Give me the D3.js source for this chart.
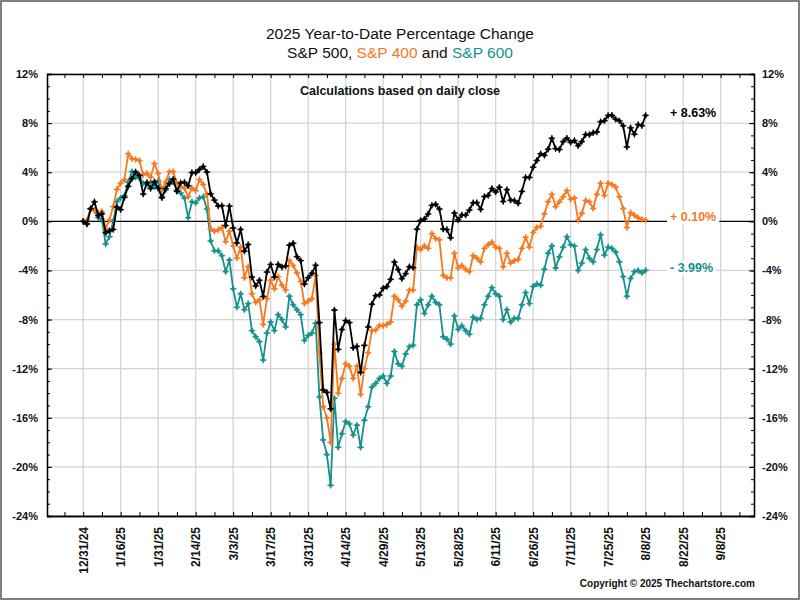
<!DOCTYPE html>
<html>
<head>
<meta charset="utf-8">
<script src="https://cdn.jsdelivr.net/npm/d3@7"></script>
<style>
  body { margin: 0; background: #fff; }
  svg text { font-family: Arial, "Liberation Sans", sans-serif; }
</style>
</head>
<body>
<div id="my_dataviz"></div>
<script>
// x axis is trading days, one label every 10 sessions
const tickLabels = ["12/31/24", "1/16/25", "1/31/25", "2/14/25", "3/3/25", "3/17/25", "3/31/25",
  "4/14/25", "4/29/25", "5/13/25", "5/28/25", "6/11/25", "6/26/25", "7/11/25", "7/25/25",
  "8/8/25", "8/22/25", "9/8/25"];

// YTD % change at each daily close, 12/31/24 .. 8/8/25
const sp500 = [0, -0.22, 1.03, 1.59, 0.47, 0.62, -0.93, -0.77, -0.66, 1.16,
  0.95, 1.96, 2.85, 3.48, 4.03, 3.73, 2.22, 3.16, 2.68, 3.22,
  2.70, 1.92, 2.66, 3.06, 3.43, 2.45, 3.14, 3.18, 2.90, 3.97,
  3.96, 4.22, 4.46, 4.01, 2.24, 1.73, 1.25, 1.27, -0.34, 1.24,
  -0.54, -1.76, -0.66, -2.43, -1.89, -4.54, -5.26, -4.80, -6.12, -4.13,
  -3.51, -4.54, -3.51, -3.72, -3.64, -1.94, -1.79, -2.88, -3.20, -5.11,
  -4.59, -4.23, -3.58, -8.25, -13.73, -13.93, -15.28, -7.22, -10.43, -8.81,
  -8.09, -8.25, -10.30, -10.18, -12.30, -10.10, -8.60, -6.75, -6.06, -6.00,
  -5.45, -5.31, -4.72, -3.31, -3.93, -4.67, -4.26, -3.70, -3.77, -0.64,
  0.08, 0.19, 0.60, 1.30, 1.39, 1.00, -0.63, -0.67, -1.34, 0.68,
  0.12, 0.52, 0.51, 0.92, 1.51, 1.52, 0.98, 2.02, 2.11, 2.67,
  2.39, 2.78, 1.62, 2.58, 1.72, 1.69, 1.47, 2.44, 3.58, 3.58,
  4.41, 4.96, 5.50, 5.38, 5.88, 6.76, 5.92, 5.85, 6.49, 6.78,
  6.43, 6.58, 6.16, 6.50, 7.07, 7.06, 7.21, 7.28, 8.11, 8.19,
  8.62, 8.64, 8.32, 8.18, 7.78, 6.06, 7.62, 7.10, 7.88, 7.79,
  8.63];

const sp400 = [0, 0.1, 1.06, 0.9, 0.7, 0.8, -0.6, 0.1, 1.2, 2.6,
  3.1, 3.4, 5.5, 5.1, 5.05, 4.95, 3.8, 3.9, 3.6, 4.7,
  3.9, 2.6, 3.2, 4.05, 4.05, 3.1, 2.8, 2.7, 2.0, 2.7,
  2.5, 3.4, 3.0, 2.2, -0.6, -0.8, -0.7, -0.5, -1.66, -0.8,
  -2.0, -3.0, -2.1, -4.6, -3.7, -5.9, -6.6, -6.4, -8.4, -6.3,
  -4.8, -5.5, -4.5, -5.2, -5.6, -3.2, -3.6, -4.2, -4.9, -6.7,
  -6.5, -6.3, -4.4, -10.7, -15.1, -16.0, -18.0, -10.0, -14.0, -12.8,
  -11.6, -11.8, -12.8, -11.8, -14.1, -12.0, -10.7, -8.9, -8.85, -8.5,
  -8.5, -8.4, -8.2, -6.1, -6.4, -6.9, -6.5, -5.6, -5.6, -2.1,
  -2.3, -2.0, -2.2, -1.0, -1.4, -1.5, -4.4, -4.6, -4.6, -2.6,
  -3.8, -3.6, -3.9, -4.1, -2.8, -3.0, -3.3, -2.2, -1.9, -1.7,
  -2.1, -2.2, -3.7, -2.6, -3.4, -3.2, -3.1, -2.2, -1.3, -2.1,
  -0.9, -0.5, -0.4, 0.6, 1.6, 2.2, 1.2, 1.6, 2.0, 2.5,
  1.8, 1.9, 0.1, 0.65, 1.7, 1.6, 1.05, 2.2, 3.1, 2.1,
  3.1, 3.0, 2.8, 2.0, 1.05, -0.5, 0.7, 0.5, 0.3, 0.16,
  0.10];

const sp600 = [0, -0.2, 1.0, 0.9, 0.3, 0.15, -1.85, -1.25, 0.0, 1.6,
  1.9, 2.1, 3.2, 4.05, 3.6, 3.5, 3.1, 3.0, 3.2, 2.8,
  3.3, 2.0, 2.55, 3.4, 3.2, 2.55, 2.3, 1.9, 0.3, 1.6,
  1.5, 1.9, 2.0, 1.0, -1.6, -2.4, -2.4, -2.8, -4.1, -3.15,
  -5.5, -7.0, -5.9, -7.2, -6.7, -8.9, -9.4, -9.8, -11.3, -9.1,
  -8.2, -8.9, -7.6, -8.0, -8.6, -6.1, -6.8, -7.2, -7.6, -9.7,
  -9.3, -9.1, -8.3, -14.3, -17.8, -19.0, -21.5, -14.4, -18.4, -17.3,
  -16.3, -16.5, -17.4, -16.6, -18.4, -16.2, -15.1, -13.5, -13.2, -12.8,
  -12.6, -13.2, -12.6, -10.6, -11.6, -11.8, -10.8, -10.2, -10.1, -6.8,
  -6.4, -7.5, -6.8, -6.1, -6.6, -6.8, -9.4, -9.6, -10.0, -7.7,
  -8.8, -8.5, -8.9, -9.2, -7.8, -8.0, -7.9, -6.8, -6.1, -5.4,
  -5.9, -6.1, -8.0, -7.2, -8.2, -7.9, -7.9, -6.8, -5.8, -6.7,
  -5.3, -5.1, -5.2, -3.9, -2.6, -2.0, -3.8, -2.9, -2.1, -1.25,
  -1.9, -2.0, -4.0, -3.4, -2.3, -3.0, -3.3, -2.3, -1.1, -2.75,
  -2.1, -2.2, -2.5, -3.3, -4.5, -6.1, -4.65, -4.1, -4.0, -4.2,
  -3.99];

const seriesNames = ["S&P 500", "S&P 400", "S&P 600"];
const endLabels = ["+ 8.63%", "+ 0.10%", "- 3.99%"];
const colors = ["#000000", "#F7791E", "#16918C"];
const yTicks = d3.range(-24, 13, 4);

const W = 800, H = 600;
const plot = {left: 47, right: 754, top: 74, bottom: 516};

const svg = d3.select("#my_dataviz")
  .append("svg")
  .attr("width", W)
  .attr("height", H);

// outer frame
svg.append("rect")
  .attr("x", 1).attr("y", 1)
  .attr("width", W - 2).attr("height", H - 2)
  .attr("fill", "#fff")
  .attr("stroke", "#7f7f7f")
  .attr("stroke-width", 2);

let x = d3.scaleLinear()
  .domain([-9.65, 178.9])
  .range([plot.left, plot.right]);

let y = d3.scaleLinear()
  .domain([-24, 12])
  .range([plot.bottom, plot.top]);

const majorX = d3.range(0, tickLabels.length * 10, 10);
const minorX = d3.range(-5, 179, 10);

// gridlines
svg.append("g")
  .selectAll("line")
  .data(majorX)
  .join("line")
  .attr("x1", d => x(d)).attr("x2", d => x(d))
  .attr("y1", plot.top).attr("y2", plot.bottom)
  .attr("stroke", "#d4d4d4")
  .attr("stroke-width", 1.3);

svg.append("g")
  .selectAll("line")
  .data(yTicks.filter(d => d !== 0))
  .join("line")
  .attr("x1", plot.left).attr("x2", plot.right)
  .attr("y1", d => y(d)).attr("y2", d => y(d))
  .attr("stroke", "#d4d4d4")
  .attr("stroke-width", 1.3);

// zero line
svg.append("line")
  .attr("x1", plot.left).attr("x2", plot.right)
  .attr("y1", y(0)).attr("y2", y(0))
  .attr("stroke", "#000")
  .attr("stroke-width", 1.2);

function styleAxis(g) {
  g.attr("font-family", "Arial, 'Liberation Sans', sans-serif")
    .attr("font-size", 11)
    .attr("font-weight", "bold");
  g.select(".domain").attr("stroke", "#000").attr("stroke-width", 1.3);
  g.selectAll(".tick line").attr("stroke", "#000");
  g.selectAll(".tick text").attr("fill", "#111");
}

// left and right y axes, ticks point inward
svg.append("g")
  .attr("transform", `translate(${plot.left},0)`)
  .call(d3.axisLeft(y).tickValues(yTicks).tickFormat(d => d + "%").tickSize(-5).tickPadding(9))
  .call(styleAxis);
svg.append("g")
  .attr("transform", `translate(${plot.left},0)`)
  .call(d3.axisLeft(y).tickValues(d3.range(-24, 13, 1)).tickFormat("").tickSize(-3))
  .call(styleAxis);

svg.append("g")
  .attr("transform", `translate(${plot.right},0)`)
  .call(d3.axisRight(y).tickValues(yTicks).tickFormat(d => d + "%").tickSize(-5).tickPadding(8))
  .call(styleAxis);
svg.append("g")
  .attr("transform", `translate(${plot.right},0)`)
  .call(d3.axisRight(y).tickValues(d3.range(-24, 13, 1)).tickFormat("").tickSize(-3))
  .call(styleAxis);

// top border with small ticks
svg.append("g")
  .attr("transform", `translate(0,${plot.top})`)
  .call(d3.axisTop(x).tickValues(minorX.concat(majorX)).tickFormat("").tickSize(-4).tickSizeOuter(0))
  .call(styleAxis);

// bottom axis, labels rotated
svg.append("g")
  .attr("transform", `translate(0,${plot.bottom})`)
  .call(d3.axisBottom(x).tickValues(minorX).tickFormat("").tickSize(-4).tickSizeOuter(0))
  .call(styleAxis);

let xAxis = svg.append("g")
  .attr("transform", `translate(0,${plot.bottom})`)
  .call(d3.axisBottom(x).tickValues(majorX).tickFormat((d, i) => tickLabels[i]).tickSize(-4).tickSizeOuter(0))
  .call(styleAxis);

xAxis.selectAll(".tick text")
  .attr("font-size", 12)
  .attr("transform", "rotate(-90)")
  .attr("text-anchor", "end")
  .attr("x", -11)
  .attr("y", 0)
  .attr("dy", "0.35em");

// series
const series = [sp600, sp400, sp500].map((vals, k) => ({
  name: seriesNames[2 - k],
  color: colors[2 - k],
  values: vals.map((v, i) => ({i: i, v: v}))
}));

const line = d3.line()
  .x(d => x(d.i))
  .y(d => y(d.v));

const star = "M0,-3.2L0.9,-0.9L3.2,0L0.9,0.9L0,3.2L-0.9,0.9L-3.2,0L-0.9,-0.9Z";

series.forEach(s => {
  svg.append("path")
    .datum(s.values)
    .attr("fill", "none")
    .attr("stroke", s.color)
    .attr("stroke-width", 1.8)
    .attr("stroke-linejoin", "round")
    .attr("d", line);

  svg.append("g")
    .selectAll("path")
    .data(s.values)
    .join("path")
    .attr("transform", d => `translate(${x(d.i)},${y(d.v)})`)
    .attr("d", star)
    .attr("fill", s.color)
    .attr("stroke", s.color)
    .attr("stroke-width", 0.7);
});

// end-of-line value labels on white boxes
const finals = [sp500, sp400, sp600].map(a => a[a.length - 1]);
finals.forEach((f, k) => {
  let t = svg.append("text")
    .attr("x", 670)
    .attr("y", y(f) - 3)
    .attr("dy", "0.35em")
    .attr("font-size", 12.5)
    .attr("font-weight", "bold")
    .attr("fill", colors[k])
    .text(endLabels[k]);
  let b = t.node().getBBox();
  svg.insert("rect", () => t.node())
    .attr("x", b.x - 3).attr("y", b.y)
    .attr("width", b.width + 6).attr("height", b.height)
    .attr("fill", "#fff");
});

// titles
svg.append("text")
  .attr("x", 400).attr("y", 39)
  .attr("text-anchor", "middle")
  .attr("font-size", 15.5)
  .attr("fill", "#111")
  .text("2025 Year-to-Date Percentage Change");

let sub = svg.append("text")
  .attr("x", 400).attr("y", 58)
  .attr("text-anchor", "middle")
  .attr("font-size", 15.5);
sub.append("tspan").attr("fill", "#111").text("S&P 500, ");
sub.append("tspan").attr("fill", colors[1]).text("S&P 400");
sub.append("tspan").attr("fill", "#111").text(" and ");
sub.append("tspan").attr("fill", colors[2]).text("S&P 600");

svg.append("text")
  .attr("x", 400).attr("y", 95)
  .attr("text-anchor", "middle")
  .attr("font-size", 12.5)
  .attr("font-weight", "bold")
  .attr("fill", "#111")
  .text("Calculations based on daily close");

svg.append("text")
  .attr("x", 755).attr("y", 587)
  .attr("text-anchor", "end")
  .attr("font-size", 10)
  .attr("font-weight", "bold")
  .attr("fill", "#111")
  .text("Copyright © 2025 Thechartstore.com");
</script>
</body>
</html>
